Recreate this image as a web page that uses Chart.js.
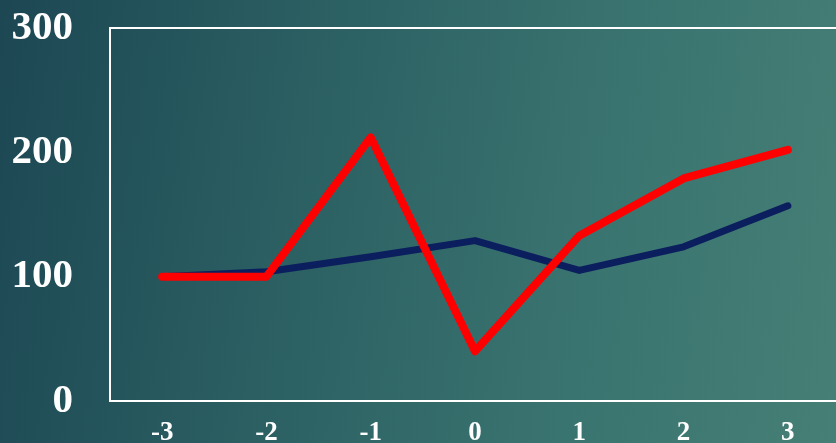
<!DOCTYPE html>
<html>
<head>
<meta charset="utf-8">
<script src="https://cdn.jsdelivr.net/npm/chart.js@4.4.1/dist/chart.umd.min.js"></script>
<style>
  html, body { margin: 0; padding: 0; width: 836px; height: 443px; overflow: hidden; }
  body { background: linear-gradient(100deg, #1c4753 0%, #2b5f62 35%, #3a7470 70%, #457f75 100%); }
  #wrap { position: absolute; left: 0; top: 0; width: 844px; height: 460px; }
</style>
</head>
<body>
<div id="wrap"><canvas id="chart"></canvas></div>
<script>
// Category labels along the x axis
const categories = ['-3', '-2', '-1', '0', '1', '2', '3'];
// Two series plotted as thick lines
const navySeries = [100, 104, 116, 129, 105, 124, 157];
const redSeries = [100, 100, 212, 40, 133, 179, 202];
// Y axis range and step
const yMin = 0;
const yMax = 300;
const yStep = 100;

// Fixed plot frame: y axis column width and bottom edge of the plot
const AXIS_LEFT = 110;
const AREA_BOTTOM = 401;
const CANVAS_H = 460;

const serifBold = (size) => ({ family: '"Liberation Serif", "Times New Roman", serif', size, weight: 'bold' });

new Chart(document.getElementById('chart'), {
  type: 'line',
  data: {
    labels: categories,
    datasets: [
      // red first so it is painted above the navy line
      { data: redSeries, borderColor: '#ff0000', borderWidth: 8, pointRadius: 0,
        borderCapStyle: 'round', borderJoinStyle: 'round', tension: 0 },
      { data: navySeries, borderColor: '#0b1f5e', borderWidth: 7, pointRadius: 0,
        borderCapStyle: 'round', borderJoinStyle: 'round', tension: 0 }
    ]
  },
  options: {
    responsive: true,
    maintainAspectRatio: false,
    animation: false,
    events: [],
    layout: { padding: { top: 28, left: 0, right: 4, bottom: 0 } },
    plugins: { legend: { display: false }, tooltip: { enabled: false } },
    scales: {
      x: {
        offset: true,
        grid: { display: false, drawTicks: false },
        border: { display: true, color: '#ffffff', width: 2 },
        ticks: { color: '#ffffff', padding: 16, maxRotation: 0, font: serifBold(27) },
        afterFit: (s) => { s.height = CANVAS_H - AREA_BOTTOM; s.paddingLeft = 0; s.paddingRight = 0; }
      },
      y: {
        min: yMin,
        max: yMax,
        grid: {
          drawTicks: false,
          lineWidth: 2,
          // only the top line of the frame is drawn
          color: (c) => (c.tick && c.tick.value === yMax ? '#ffffff' : 'rgba(0,0,0,0)')
        },
        border: { display: true, color: '#ffffff', width: 2 },
        ticks: { stepSize: yStep, color: '#ffffff', padding: 37, font: serifBold(41) },
        afterFit: (s) => { s.width = AXIS_LEFT; s.paddingTop = 0; s.paddingBottom = 0; }
      }
    }
  }
});
</script>
</body>
</html>
